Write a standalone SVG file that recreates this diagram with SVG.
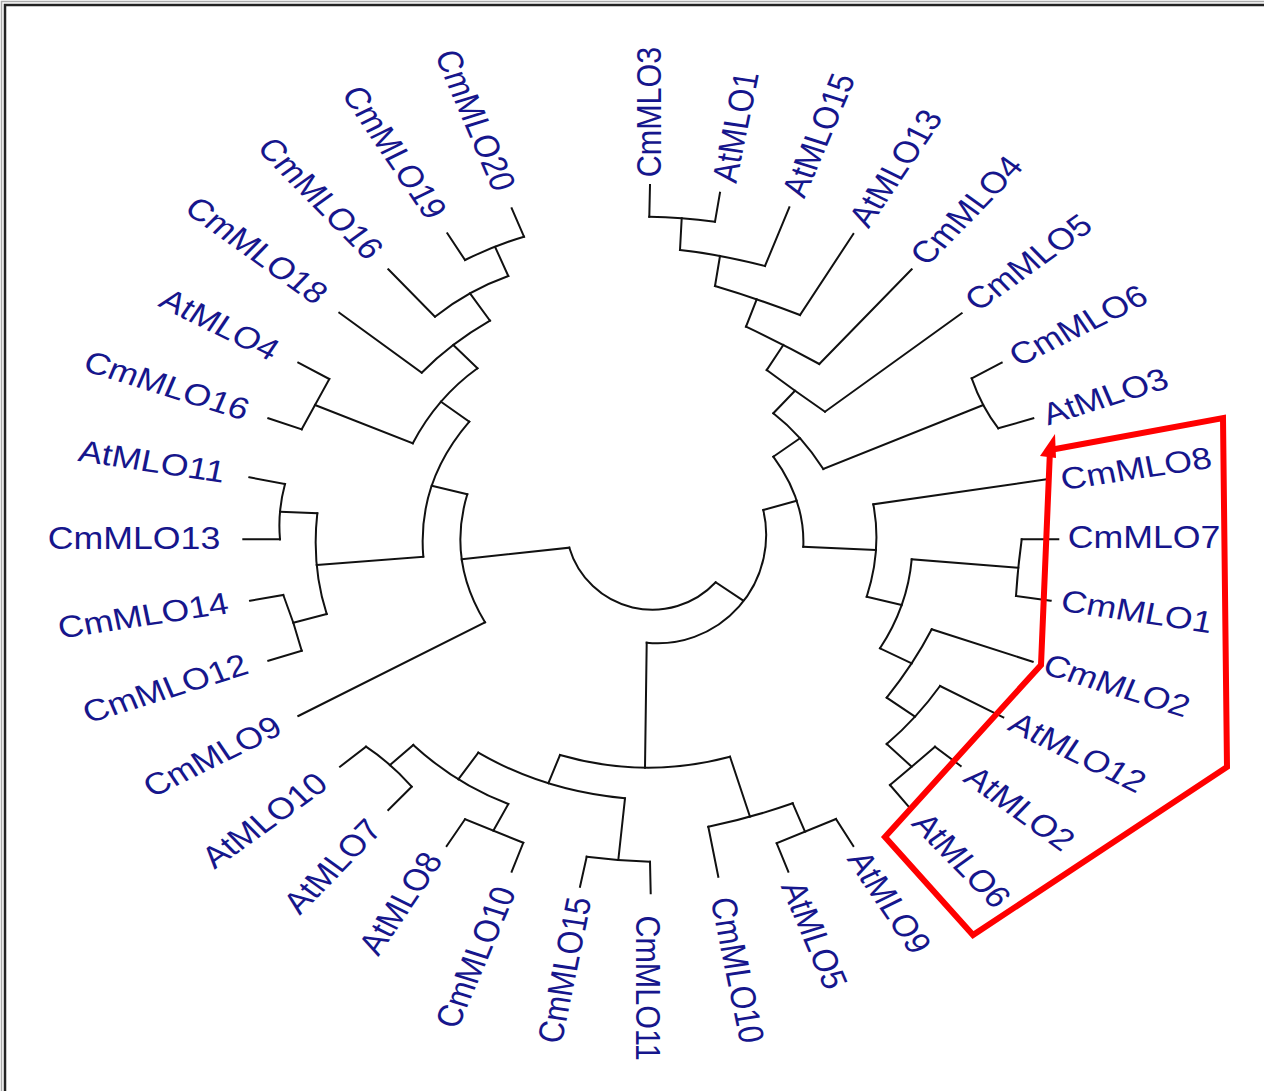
<svg xmlns="http://www.w3.org/2000/svg" width="1264" height="1091" viewBox="0 0 1264 1091">
<style>
.br{fill:none;stroke:#111;stroke-width:2;stroke-linecap:square}
.lb{font-family:"Liberation Sans",Arial,sans-serif;font-size:30.5px;fill:#16168c}
.hl{fill:none;stroke:#ff0000;stroke-width:6;stroke-linejoin:miter}
</style>
<rect width="1264" height="1091" fill="#fff"/>
<path d="M1.5,1091 V1.5 H1264" fill="none" stroke="#aaa" stroke-width="1.5"/>
<path d="M5,1091 V5 H1264" fill="none" stroke="#222" stroke-width="2.5"/>
<g id="connectors" class="br">
<path d="M649.3,216.7 L650,185 M715,221.7 L720,192.7 M765,266 L789.3,207.3 M800,315 L853.3,234 M819.3,364 L911.7,269.3 M825,411.7 L961.7,313.3 M971.7,378.3 L1001.7,362.7 M998.3,428.3 L1033.3,418.3 M873.3,504.3 L1046.7,479.3 M1021.7,539.3 L1058.3,539.3 M1016,596 L1050.7,600.7 M931.7,629.3 L1032.7,661.7 M940,686 L1003.3,717.3 M935,746.7 L960.7,766 M890,785 L909.3,807.3 M836,819 L853.3,846 M776.7,843.3 L788.3,871.7 M708.3,826.7 L718.3,876.7 M650,861.7 L650.7,893.3 M586.7,856.7 L580,886.7 M523.3,842.7 L511.7,871.7 M465,819.3 L446.7,846 M411.7,786.7 L388.3,810 M366,746.7 L340,766.7 M485,622.3 L298.3,716 M301.7,650.7 L268.3,660.7 M283.3,595 L250,600.7 M280,539.3 L243.3,539.3 M285,484 L249.3,477.3 M301.7,429.3 L268.3,418.3 M329.3,379 L298.3,362.7 M421.7,372.7 L339.3,312.7 M435,316.7 L388.3,269.3 M465,260 L447.3,233.3 M524,236.7 L511.7,208.3"/>
<path d="M569.3,547.7 L461.7,559.3 M715.7,582.3 L743.3,600.7 M646.7,642.7 L645,767.7 M763.3,510 L796.7,500.7 M773.3,456.7 L800,438.3 M773.3,413.3 L795,390.7 M766.7,370 L783.3,345 M746,326.7 L756.7,299.3 M715,286 L720,256 M680,250 L681.7,218.3 M823.3,469 L983.3,405 M803.3,546.7 L876,550 M866.7,596.7 L901.7,605 M911.7,559.3 L1018.3,567.7 M880,648.3 L911.7,663.3 M886.7,697.7 L915,716.7 M886.7,744 L911.7,766.7 M560,755 L548.3,783.3 M625,798.3 L618.3,860 M478.3,752.7 L458.3,779.3 M413.3,745 L390,765 M508.3,804 L493.3,830.7 M730,756.7 L750,816.7 M792.7,803.3 L805,831.7 M431.7,485.7 L467.3,494.3 M423.3,556.7 L316.7,565 M317.3,513.3 L280,511.7 M326.7,614 L293.3,622.7 M469.3,421.7 L441,401.7 M412.8,443.3 L315,405 M477.5,368.3 L453.3,345 M490,320.7 L470,293.3 M508.3,276 L495,246.7"/>
<path d="M569.3,547.7 A86.7,86.7 0 0 0 715.7,582.3 M646.7,642.7 A108.5,108.5 0 0 0 763.3,510"/>
<path d="M773.3,456.7 Q805.1,499.7 803.3,546.7 M773.3,413.3 Q801.7,435.4 823.3,469 M766.7,370 Q794.2,390.6 825,411.7 M746,326.7 Q783.95,344.65 819.3,364 M715,286 Q755.9,298.1 800,315 M680,250 Q717.5,254 765,266 M649.3,216.7 Q681.25,217.4 715,221.7 M971.7,378.3 Q981.6,406.7 998.3,428.3 M873.3,504.3 Q882,549.5 866.7,596.7 M911.7,559.3 Q907.55,606.2 880,648.3 M1021.7,539.3 Q1017.75,567.75 1016,596 M931.7,629.3 Q914.2,663.1 886.7,697.7 M940,686 Q916.65,718.4 886.7,744 M935,746.7 Q910.9,767.55 890,785"/>
<path d="M560,755 Q645,779.55 730,756.7 M478.3,752.7 Q544.95,791.1 625,798.3 M586.7,856.7 Q618.25,860.8 650,861.7 M413.3,745 Q455.8,784.1 508.3,804 M366,746.7 Q391.15,763.3 411.7,786.7 M465,819.3 Q492.45,830.4 523.3,842.7 M708.3,826.7 Q749.5,818.4 792.7,803.3 M776.7,843.3 Q803.65,832.25 836,819"/>
<path d="M467.3,494.3 Q447.25,560.3 485,622.3 M469.3,421.7 Q417.1,482.2 423.3,556.7 M317.3,513.3 Q311.4,566.35 326.7,614 M285,484 Q277.5,511.75 280,539.3 M283.3,595 Q294.1,622.55 301.7,650.7 M477.5,368.3 Q436.85,397.6 412.8,443.3 M329.3,379 Q314.5,405.85 301.7,429.3 M490,320.7 Q450.75,343.3 421.7,372.7 M508.3,276 Q468.35,290.25 435,316.7 M524,236.7 Q495.5,245.05 465,260"/>
</g>
<g class="lb" text-anchor="middle">
<g id="n-CmMLO3"><text transform="translate(648,112) scale(1.17,1) rotate(-90)" dy="0.358em">CmMLO3</text></g>
<g id="n-AtMLO1"><text transform="translate(735,127) scale(1.17,1) rotate(-80)" dy="0.358em">AtMLO1</text></g>
<g id="n-AtMLO15"><text transform="translate(818,135) scale(1.17,1) rotate(-70)" dy="0.358em">AtMLO15</text></g>
<g id="n-AtMLO13"><text transform="translate(895,168) scale(1.17,1) rotate(-60)" dy="0.358em">AtMLO13</text></g>
<g id="n-CmMLO4"><text transform="translate(966,210) scale(1.17,1) rotate(-50)" dy="0.358em">CmMLO4</text></g>
<g id="n-CmMLO5"><text transform="translate(1028,262) scale(1.17,1) rotate(-40)" dy="0.358em">CmMLO5</text></g>
<g id="n-CmMLO6"><text transform="translate(1078,325) scale(1.17,1) rotate(-30)" dy="0.358em">CmMLO6</text></g>
<g id="n-AtMLO3"><text transform="translate(1105,396) scale(1.17,1) rotate(-20)" dy="0.358em">AtMLO3</text></g>
<g id="n-CmMLO8"><text transform="translate(1136,468) scale(1.17,1) rotate(-10)" dy="0.358em">CmMLO8</text></g>
<g id="n-CmMLO7"><text transform="translate(1144,537) scale(1.17,1) rotate(0)" dy="0.358em">CmMLO7</text></g>
<g id="n-CmMLO1"><text transform="translate(1137,611) scale(1.17,1) rotate(10)" dy="0.358em">CmMLO1</text></g>
<g id="n-CmMLO2"><text transform="translate(1117,685) scale(1.17,1) rotate(20)" dy="0.358em">CmMLO2</text></g>
<g id="n-AtMLO12"><text transform="translate(1078,752) scale(1.17,1) rotate(30)" dy="0.358em">AtMLO12</text></g>
<g id="n-AtMLO2"><text transform="translate(1020,808) scale(1.17,1) rotate(40)" dy="0.358em">AtMLO2</text></g>
<g id="n-AtMLO6"><text transform="translate(962,860) scale(1.17,1) rotate(50)" dy="0.358em">AtMLO6</text></g>
<g id="n-AtMLO9"><text transform="translate(890,902) scale(1.17,1) rotate(60)" dy="0.358em">AtMLO9</text></g>
<g id="n-AtMLO5"><text transform="translate(815,935) scale(1.17,1) rotate(70)" dy="0.358em">AtMLO5</text></g>
<g id="n-CmMLO10b"><text transform="translate(738,970) scale(1.17,1) rotate(80)" dy="0.358em">CmMLO10</text></g>
<g id="n-CmMLO11"><text transform="translate(649,988) scale(1.17,1) rotate(90)" dy="0.358em">CmMLO11</text></g>
<g id="n-CmMLO15"><text transform="translate(564,970) scale(1.17,1) rotate(-80)" dy="0.358em">CmMLO15</text></g>
<g id="n-CmMLO10a"><text transform="translate(475,957) scale(1.17,1) rotate(-70)" dy="0.358em">CmMLO10</text></g>
<g id="n-AtMLO8"><text transform="translate(400,903) scale(1.17,1) rotate(-60)" dy="0.358em">AtMLO8</text></g>
<g id="n-AtMLO7"><text transform="translate(332,866) scale(1.17,1) rotate(-50)" dy="0.358em">AtMLO7</text></g>
<g id="n-AtMLO10"><text transform="translate(264,820) scale(1.17,1) rotate(-40)" dy="0.358em">AtMLO10</text></g>
<g id="n-CmMLO9"><text transform="translate(212,756) scale(1.17,1) rotate(-30)" dy="0.358em">CmMLO9</text></g>
<g id="n-CmMLO12"><text transform="translate(165,688) scale(1.17,1) rotate(-20)" dy="0.358em">CmMLO12</text></g>
<g id="n-CmMLO14"><text transform="translate(143,615) scale(1.17,1) rotate(-10)" dy="0.358em">CmMLO14</text></g>
<g id="n-CmMLO13"><text transform="translate(134,538) scale(1.17,1) rotate(0)" dy="0.358em">CmMLO13</text></g>
<g id="n-AtMLO11"><text transform="translate(152,461) scale(1.17,1) rotate(10)" dy="0.358em">AtMLO11</text></g>
<g id="n-CmMLO16a"><text transform="translate(167,385) scale(1.17,1) rotate(20)" dy="0.358em">CmMLO16</text></g>
<g id="n-AtMLO4"><text transform="translate(220,324) scale(1.17,1) rotate(30)" dy="0.358em">AtMLO4</text></g>
<g id="n-CmMLO18"><text transform="translate(257,250) scale(1.17,1) rotate(40)" dy="0.358em">CmMLO18</text></g>
<g id="n-CmMLO16b"><text transform="translate(321,198) scale(1.17,1) rotate(50)" dy="0.358em">CmMLO16</text></g>
<g id="n-CmMLO19"><text transform="translate(395,152) scale(1.17,1) rotate(60)" dy="0.358em">CmMLO19</text></g>
<g id="n-CmMLO20"><text transform="translate(476,120) scale(1.17,1) rotate(70)" dy="0.358em">CmMLO20</text></g>
</g>
<g id="highlight">
<polygon class="hl" points="1050,450 1223,418 1227,767 973,935 885,837 1041,665"/>
<polygon points="1040,456 1055,434 1056,458" fill="#ff0000"/>
</g>
</svg>
